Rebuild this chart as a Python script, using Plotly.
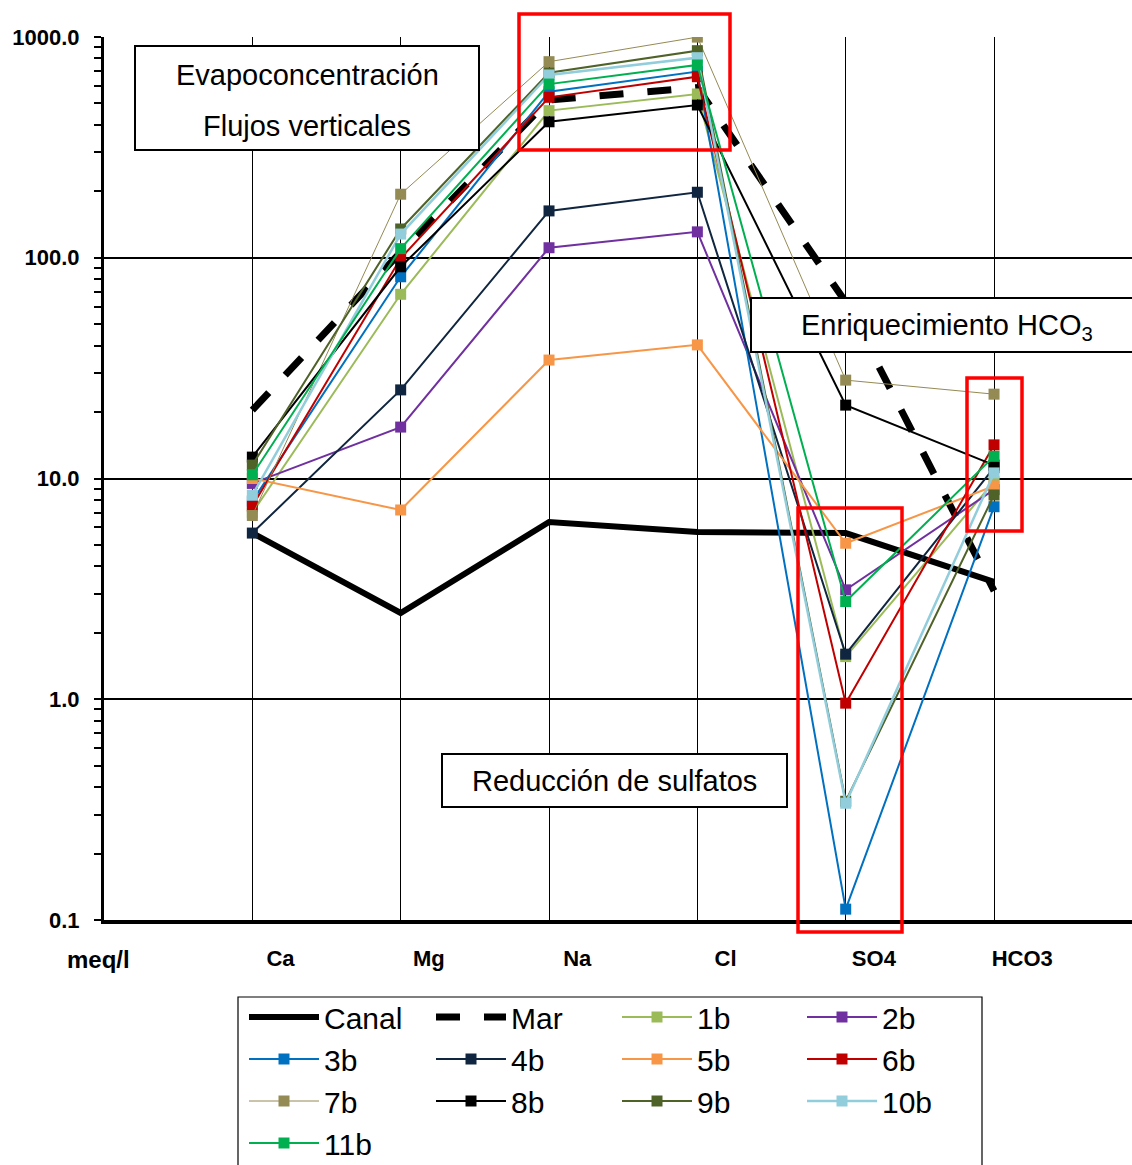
import plotly.graph_objects as go

categories = ["Ca", "Mg", "Na", "Cl", "SO4", "HCO3"]
xpos = [1, 2, 3, 4, 5, 6]

canal = [5.66, 2.46, 6.35, 5.73, 5.66, 3.4]
mar = [20.4, 106, 519, 590, 63, 3.1]
s1b = [7.0, 68.3, 464, 552, 1.56, 9.67]
s2b = [9.5, 17.1, 111, 131, 3.13, 8.9]
s3b = [7.9, 82, 565, 697, 0.112, 7.45]
s4b = [5.66, 25.2, 163, 198, 1.60, 11.2]
s5b = [10.0, 7.2, 34.4, 40.3, 5.09, 9.25]
s6b = [7.5, 99.4, 533, 661, 0.96, 14.2]
s7b = [6.8, 194, 773, 999, 27.9, 24.1]
s8b = [12.5, 91, 413, 492, 21.5, 11.5]
s9b = [11.5, 135, 689, 867, 0.345, 8.42]
s10b = [8.4, 128, 673, 806, 0.338, 10.6]
s11b = [10.4, 110, 612, 747, 2.77, 12.6]

samples = [
    ("1b", s1b, "#9BBB59", 2),
    ("2b", s2b, "#7030A0", 2),
    ("3b", s3b, "#0070C0", 2),
    ("4b", s4b, "#10253F", 2),
    ("5b", s5b, "#F79646", 2),
    ("6b", s6b, "#C00000", 2),
    ("7b", s7b, "#948A54", 1),
    ("8b", s8b, "#000000", 2),
    ("9b", s9b, "#4F6228", 2),
    ("10b", s10b, "#92CDDC", 2.5),
    ("11b", s11b, "#00B050", 2),
]

yticks = [0.1, 1, 10, 100, 1000]
yticktext = ["0.1", "1.0", "10.0", "100.0", "1000.0"]

FONT = "Arial, Liberation Sans, sans-serif"

W, H = 1132, 1165
L, R, T, B = 104, 1132, 37, 920


def px(x):
    return (x - L) / (R - L)


def py(y):
    return (B - y) / (B - T)


legend_names = ["legend", "legend2", "legend3", "legend4"]

fig = go.Figure()
idx = 0
fig.add_trace(go.Scatter(x=xpos, y=canal, name="Canal", mode="lines",
                         legend=legend_names[idx % 4],
                         line=dict(color="black", width=6)))
idx += 1
fig.add_trace(go.Scatter(x=xpos, y=mar, name="Mar", mode="lines",
                         legend=legend_names[idx % 4],
                         line=dict(color="black", width=7, dash="24px,24px")))
idx += 1
for name, vals, col, w in samples:
    fig.add_trace(go.Scatter(x=xpos, y=vals, name=name, mode="lines+markers",
                             legend=legend_names[idx % 4],
                             line=dict(color=col, width=w),
                             marker=dict(symbol="square", size=11, color=col)))
    idx += 1

minor_y = [m * 10 ** e for e in range(-1, 3) for m in range(2, 10)]

shapes = []
annotations = []


def label(text, x, y, size=29, bold=False):
    t = "<b>%s</b>" % text if bold else text
    annotations.append(dict(text=t, xref="paper", yref="paper", x=px(x), y=py(y),
                            xanchor="center", yanchor="middle", showarrow=False,
                            font=dict(size=size, family=FONT, color="black")))


# Text boxes
shapes.append(dict(type="rect", xref="paper", yref="paper",
                   x0=px(135), x1=px(479), y0=py(150), y1=py(46),
                   line=dict(color="black", width=2), fillcolor="white", layer="above"))
label("Evapoconcentración", 307, 75)
label("Flujos verticales", 307, 126)

shapes.append(dict(type="rect", xref="paper", yref="paper",
                   x0=px(751), x1=px(1145), y0=py(352), y1=py(298),
                   line=dict(color="black", width=2), fillcolor="white", layer="above"))
label("Enriquecimiento HCO<sub>3</sub>", 947, 327)

shapes.append(dict(type="rect", xref="paper", yref="paper",
                   x0=px(442), x1=px(787), y0=py(807), y1=py(754),
                   line=dict(color="black", width=2), fillcolor="white", layer="above"))
label("Reducción de sulfatos", 614, 781)

# Red highlight boxes
for (x0, y0, x1, y1) in [(519, 14, 730, 150), (967, 378, 1022, 531), (798, 508, 902, 932)]:
    shapes.append(dict(type="rect", xref="paper", yref="paper",
                       x0=px(x0), x1=px(x1), y0=py(y1), y1=py(y0),
                       line=dict(color="#FF0000", width=3.5), layer="above"))

# Legend frame
shapes.append(dict(type="rect", xref="paper", yref="paper",
                   x0=px(238), x1=px(982), y0=py(1180), y1=py(997),
                   line=dict(color="black", width=1.2), fillcolor="rgba(0,0,0,0)"))

label("meq/l", 98, 960, size=24, bold=True)

legend_cols = [244, 431, 617, 802]
legend_common = dict(orientation="v", yanchor="top", xanchor="left",
                     bgcolor="rgba(0,0,0,0)", borderwidth=0,
                     font=dict(size=30, family=FONT, color="black"),
                     itemwidth=70, tracegroupgap=0)

layout_legends = {}
for name, cx in zip(legend_names, legend_cols):
    layout_legends[name] = dict(x=px(cx), y=py(991), **legend_common)

fig.update_layout(
    width=W, height=H,
    margin=dict(l=L, r=W - R, t=T, b=H - B, autoexpand=False),
    plot_bgcolor="white", paper_bgcolor="white",
    font=dict(family=FONT, color="black"),
    shapes=shapes, annotations=annotations,
    showlegend=True,
    **layout_legends,
)

fig.update_xaxes(
    range=[0, 6.93],
    tickvals=[x + 0.19 for x in xpos], ticktext=["<b>%s</b>" % c for c in categories],
    tickfont=dict(size=22, family=FONT, color="black"),
    ticks="", showgrid=False, zeroline=False,
    showline=True, linecolor="black", linewidth=4,
    ticklabelstandoff=16,
    minor=dict(tickvals=xpos, showgrid=True, gridcolor="black", gridwidth=1.2, ticks=""),
)

fig.update_yaxes(
    type="log", range=[-1, 3],
    tickvals=yticks, ticktext=["<b>%s</b>" % t for t in yticktext],
    tickfont=dict(size=22, family=FONT, color="black"),
    ticks="outside", ticklen=7, tickwidth=2, tickcolor="black",
    showgrid=True, gridcolor="black", gridwidth=2,
    zeroline=False, showline=True, linecolor="black", linewidth=3,
    ticklabelstandoff=10,
    minor=dict(tickvals=minor_y, ticks="outside", ticklen=7, tickwidth=2,
               tickcolor="black", showgrid=False),
)

fig.write_html("out.html", config={"displayModeBar": False},
               post_script="document.body.style.margin='0px';document.body.style.overflow='hidden';")
